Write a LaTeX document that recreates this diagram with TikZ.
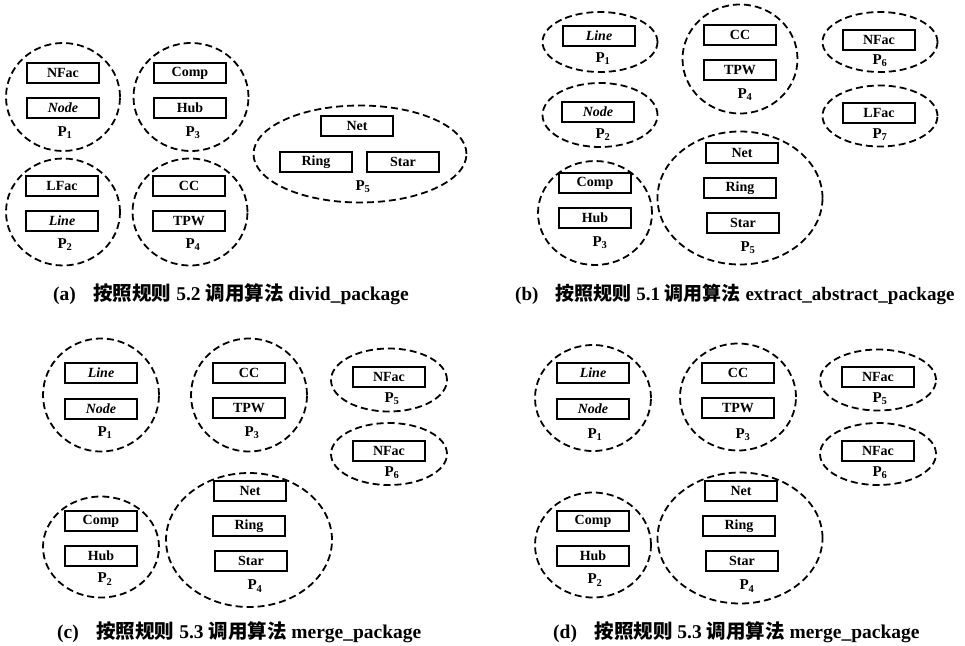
\documentclass[tikz,border=0pt]{standalone}
\usepackage{fontspec}
\setmainfont{Liberation Serif}
\newfontfamily\cjk{Noto Sans CJK SC}
\usetikzlibrary{shapes.geometric}

\begin{document}
\begin{tikzpicture}[
    x=1pt, y=-1pt,
    pkg/.style  ={draw, ellipse, dash pattern=on 7pt off 4pt, line width=1.8pt,
                  inner sep=0pt},
    cls/.style  ={draw, line width=2pt, minimum width=72pt, minimum height=20pt,
                  inner sep=0pt, font=\fontsize{14}{16}\selectfont\bfseries},
    icls/.style ={cls, font=\fontsize{14}{16}\selectfont\bfseries\itshape},
    plbl/.style ={inner sep=0pt, font=\fontsize{15}{17}\selectfont\bfseries},
    capt/.style ={anchor=base west, inner sep=0pt,
                  font=\fontsize{19.5}{22}\selectfont\bfseries}
]
\useasboundingbox (0,0) rectangle (965,645);

% (a) divid_package
\node[pkg, minimum width=114pt, minimum height=108pt] (a-p1) at (63,97) {};
\node[cls]  (a-nfac) at (63,73)  {NFac};
\node[icls] (a-node) at (63,108) {Node};
\node[plbl] (a-l1)   at (65,133) {P\textsubscript{1}};

\node[pkg, minimum width=115pt, minimum height=108pt] (a-p3) at (191,97) {};
\node[cls]  (a-comp) at (190,73)  {Comp};
\node[cls]  (a-hub)  at (190,108) {Hub};
\node[plbl] (a-l3)   at (193,133) {P\textsubscript{3}};

\node[pkg, minimum width=114pt, minimum height=107pt] (a-p2) at (63,212) {};
\node[cls]  (a-lfac) at (62,186) {LFac};
\node[icls] (a-line) at (62,221) {Line};
\node[plbl] (a-l2)   at (65,245) {P\textsubscript{2}};

\node[pkg, minimum width=115pt, minimum height=107pt] (a-p4) at (190,212) {};
\node[cls]  (a-cc)   at (189,186) {CC};
\node[cls]  (a-tpw)  at (189,221) {TPW};
\node[plbl] (a-l4)   at (193,245) {P\textsubscript{4}};

\node[pkg, minimum width=213pt, minimum height=97pt] (a-p5) at (360,154) {};
\node[cls]  (a-net)  at (357,126) {Net};
\node[cls]  (a-ring) at (316,162) {Ring};
\node[cls]  (a-star) at (403,162) {Star};
\node[plbl] (a-l5)   at (363,187) {P\textsubscript{5}};

\node[capt] (cap-a) at (53,300)
    {(a)\hspace{0.9em}{\cjk 按照规则} 5.2 {\cjk 调用算法} divid\_package};

% (b) extract_abstract_package
\node[pkg, minimum width=115pt, minimum height=60pt] (b-p1) at (600,42) {};
\node[icls] (b-line) at (599,36) {Line};
\node[plbl] (b-l1)   at (603,59) {P\textsubscript{1}};

\node[pkg, minimum width=115pt, minimum height=64pt] (b-p2) at (600,115) {};
\node[icls] (b-node) at (598,112) {Node};
\node[plbl] (b-l2)   at (603,135) {P\textsubscript{2}};

\node[pkg, minimum width=115pt, minimum height=109pt] (b-p4) at (740,59) {};
\node[cls]  (b-cc)   at (740,35) {CC};
\node[cls]  (b-tpw)  at (740,70) {TPW};
\node[plbl] (b-l4)   at (745,95) {P\textsubscript{4}};

\node[pkg, minimum width=115pt, minimum height=60pt] (b-p6) at (880,42) {};
\node[cls]  (b-nfac) at (879,40) {NFac};
\node[plbl] (b-l6)   at (880,61) {P\textsubscript{6}};

\node[pkg, minimum width=115pt, minimum height=61pt] (b-p7) at (880,116) {};
\node[cls]  (b-lfac) at (879,113) {LFac};
\node[plbl] (b-l7)   at (880,135) {P\textsubscript{7}};

\node[pkg, minimum width=114pt, minimum height=104pt] (b-p3) at (595,213) {};
\node[cls]  (b-comp) at (595,183) {Comp};
\node[cls]  (b-hub)  at (595,218) {Hub};
\node[plbl] (b-l3)   at (600,243) {P\textsubscript{3}};

\node[pkg, minimum width=165pt, minimum height=133pt] (b-p5) at (740,198) {};
\node[cls]  (b-net)  at (742,153) {Net};
\node[cls]  (b-ring) at (740,188) {Ring};
\node[cls]  (b-star) at (743,223) {Star};
\node[plbl] (b-l5)   at (748,248) {P\textsubscript{5}};

\node[capt, font=\fontsize{19}{22}\selectfont\bfseries] (cap-b) at (515,300)
    {(b)\hspace{0.9em}{\cjk 按照规则} 5.1 {\cjk 调用算法} extract\_abstract\_package};

% (c) merge_package
\node[pkg, minimum width=116pt, minimum height=113pt] (c-p1) at (101,395) {};
\node[icls] (c-line) at (101,373) {Line};
\node[icls] (c-node) at (101,409) {Node};
\node[plbl] (c-l1)   at (105,433) {P\textsubscript{1}};

\node[pkg, minimum width=116pt, minimum height=113pt] (c-p3) at (249,395) {};
\node[cls]  (c-cc)   at (249,373) {CC};
\node[cls]  (c-tpw)  at (249,408) {TPW};
\node[plbl] (c-l3)   at (252,433) {P\textsubscript{3}};

\node[pkg, minimum width=116pt, minimum height=63pt] (c-p5) at (389,380) {};
\node[cls]  (c-nfac) at (389,377) {NFac};
\node[plbl] (c-l5)   at (392,399) {P\textsubscript{5}};

\node[pkg, minimum width=116pt, minimum height=62pt] (c-p6) at (389,454) {};
\node[cls]  (c-nfac2) at (389,451) {NFac};
\node[plbl] (c-l6)   at (392,473) {P\textsubscript{6}};

\node[pkg, minimum width=116pt, minimum height=101pt] (c-p2) at (101,547) {};
\node[cls]  (c-comp) at (101,521) {Comp};
\node[cls]  (c-hub)  at (101,556) {Hub};
\node[plbl] (c-l2)   at (105,579) {P\textsubscript{2}};

\node[pkg, minimum width=166pt, minimum height=134pt] (c-p4) at (249,540) {};
\node[cls]  (c-net)  at (250,491) {Net};
\node[cls]  (c-ring) at (249,526) {Ring};
\node[cls]  (c-star) at (251,561) {Star};
\node[plbl] (c-l4)   at (255,586) {P\textsubscript{4}};

\node[capt] (cap-c) at (57,638)
    {(c)\hspace{0.9em}{\cjk 按照规则} 5.3 {\cjk 调用算法} merge\_package};

% (d) merge_package
\node[pkg, minimum width=116pt, minimum height=106pt] (d-p1) at (593,398) {};
\node[icls] (d-line) at (593,373) {Line};
\node[icls] (d-node) at (593,409) {Node};
\node[plbl] (d-l1)   at (595,435) {P\textsubscript{1}};

\node[pkg, minimum width=116pt, minimum height=107pt] (d-p3) at (738,397) {};
\node[cls]  (d-cc)   at (738,373) {CC};
\node[cls]  (d-tpw)  at (738,408) {TPW};
\node[plbl] (d-l3)   at (743,435) {P\textsubscript{3}};

\node[pkg, minimum width=116pt, minimum height=61pt] (d-p5) at (878,380) {};
\node[cls]  (d-nfac) at (878,377) {NFac};
\node[plbl] (d-l5)   at (880,399) {P\textsubscript{5}};

\node[pkg, minimum width=116pt, minimum height=62pt] (d-p6) at (878,454) {};
\node[cls]  (d-nfac2) at (878,451) {NFac};
\node[plbl] (d-l6)   at (880,473) {P\textsubscript{6}};

\node[pkg, minimum width=116pt, minimum height=105pt] (d-p2) at (593,545) {};
\node[cls]  (d-comp) at (593,521) {Comp};
\node[cls]  (d-hub)  at (593,556) {Hub};
\node[plbl] (d-l2)   at (595,580) {P\textsubscript{2}};

\node[pkg, minimum width=165pt, minimum height=131pt] (d-p4) at (740,538) {};
\node[cls]  (d-net)  at (741,491) {Net};
\node[cls]  (d-ring) at (739,526) {Ring};
\node[cls]  (d-star) at (742,561) {Star};
\node[plbl] (d-l4)   at (747,586) {P\textsubscript{4}};

\node[capt] (cap-d) at (553,638)
    {(d)\hspace{0.9em}{\cjk 按照规则} 5.3 {\cjk 调用算法} merge\_package};

\end{tikzpicture}
\end{document}
